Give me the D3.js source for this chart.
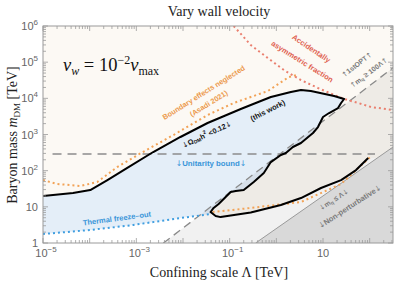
<!DOCTYPE html>
<html>
<head>
<meta charset="utf-8">
<script src="https://cdn.jsdelivr.net/npm/d3@7"></script>
<style>
  body { margin: 0; background: #fff; }
  svg { display: block; }
</style>
</head>
<body>
<div id="chart"></div>
<script>
// data: [Lambda (TeV), m_DM (TeV)]
const thisWork = [
  [1e-5, 20], [4.4e-5, 24], [1.03e-4, 29], [2.4e-4, 55], [6.4e-4, 119],
  [2.3e-3, 328], [8.8e-3, 853], [0.0336, 2080], [0.173, 5070], [0.283, 6530],
  [0.762, 1.09e4], [2.05, 1.5e4], [3.37, 1.7e4], [5.5, 1.59e4], [17.3, 1.16e4],
  [28.3, 9600], [24.4, 7430], [21.0, 5400], [13.5, 3930], [10.0, 3050],
  [7.8, 1610], [6.1, 1100], [3.37, 582], [2.26, 451], [1.6, 308], [1.25, 271],
  [0.762, 173], [0.539, 86], [0.328, 48.5], [0.2, 29.2], [0.135, 27.4],
  [0.105, 25.7], [0.082, 18.7], [0.058, 12], [0.0453, 9.3], [0.039, 7.2],
  [0.05, 5.6], [0.064, 5.2], [0.283, 7.0], [1.25, 11.2], [3.37, 17.5],
  [9.06, 33.2], [24.4, 55], [51, 104], [93, 224]
];
// index where the jagged edge reaches the lower tip
const tipIndex = 35;

const asadiUpper = [
  [1e-5, 55], [2.0e-5, 43], [6.3e-5, 37.7], [1.45e-4, 48.5], [3.9e-4, 126],
  [1.22e-3, 300], [6.25e-3, 968], [0.0336, 3460], [0.122, 7430],
  [0.656, 1.59e4], [1.86, 3.9e4], [2.76, 4.4e4]
];
const asadiLower = [
  [0.043, 7.2], [0.283, 9.3], [3.37, 13.6], [24.4, 42.8], [108, 254]
];
const freezeOut = [
  [1e-5, 1.77], [1.03e-4, 2.29], [8.6e-4, 3.15], [8.8e-3, 4.9], [0.039, 6.3]
];
const accidental = [
  [0.122, 1e6], [0.283, 2.98e5], [0.656, 1.3e5], [1.45, 6.07e4], [3.37, 3.2e4],
  [7.8, 1.93e4], [17.3, 1.24e4], [28.3, 9600], [56.6, 7430], [108, 5750], [316, 4750]
];
const unitarity = [[1.6e-5, 290], [130, 290]];
const firstOrderPT = [[3.8e-3, 1], [316, 7.0e4]];
const nonPerturbative = [[0.36, 1], [316, 450]];

const xDomain = [1e-5, 316];
const yDomain = [1, 1e6];
const xLabelPowers = [-5, -3, -1, 1];
const yLabelPowers = [0, 1, 2, 3, 4, 5, 6];

const WIDTH = 399, HEIGHT = 285;
const MARGINS = {left: 43, right: 6, top: 26, bottom: 42};

const svg = d3.select("#chart").append("svg")
  .attr("width", WIDTH).attr("height", HEIGHT);

const X = d3.scaleLog().domain(xDomain).range([MARGINS.left, WIDTH - MARGINS.right]);
const Y = d3.scaleLog().domain(yDomain).range([HEIGHT - MARGINS.bottom, MARGINS.top]);
const line = d3.line().x(d => X(d[0])).y(d => Y(d[1]));

const x0 = X.range()[0], x1 = X.range()[1], y0 = Y.range()[1], y1 = Y.range()[0];

svg.append("clipPath").attr("id", "clip")
  .append("rect").attr("x", x0).attr("y", y0).attr("width", x1 - x0).attr("height", y1 - y0);
const plot = svg.append("g").attr("clip-path", "url(#clip)");

// backgrounds
plot.append("rect").attr("x", x0).attr("y", y0).attr("width", x1 - x0).attr("height", y1 - y0)
  .attr("fill", "#ffffff");

const creamPts = [[xDomain[0], yDomain[1]]].concat(thisWork,
  [[xDomain[1], 224], [xDomain[1], yDomain[1]]]);
plot.append("path").attr("d", line(creamPts) + "Z").attr("fill", "#fcf9f4");

const bluePts = thisWork.slice(0, tipIndex + 1).concat(freezeOut.slice().reverse());
plot.append("path").attr("d", line(bluePts) + "Z").attr("fill", "#e4eef8");

const grayPts = firstOrderPT.concat([[xDomain[1], yDomain[0]]]);
plot.append("path").attr("d", line(grayPts) + "Z").attr("fill", "#000").attr("fill-opacity", 0.055);

const darkPts = nonPerturbative.concat([[xDomain[1], yDomain[0]]]);
plot.append("path").attr("d", line(darkPts) + "Z").attr("fill", "#d9d9d9");

// lines
plot.append("path").attr("d", line(nonPerturbative))
  .attr("fill", "none").attr("stroke", "#9a9a9a").attr("stroke-width", 1);
plot.append("path").attr("d", line(firstOrderPT))
  .attr("fill", "none").attr("stroke", "#8a8a8a").attr("stroke-width", 1.3).attr("stroke-dasharray", "8,5");
plot.append("path").attr("d", line(unitarity))
  .attr("fill", "none").attr("stroke", "#8c8c8c").attr("stroke-width", 1.4).attr("stroke-dasharray", "9,6");

const dotted = (data, color) => plot.append("path").attr("d", line(data))
  .attr("fill", "none").attr("stroke", color).attr("stroke-width", 2)
  .attr("stroke-dasharray", "2,3").attr("stroke-linecap", "butt");
dotted(freezeOut, "#3f9ee0");
dotted(asadiUpper, "#f2a357");
dotted(asadiLower, "#f2a357");
dotted(accidental, "#ea8070");

plot.append("path").attr("d", line(thisWork))
  .attr("fill", "none").attr("stroke", "#000").attr("stroke-width", 2).attr("stroke-linejoin", "round");

// frame and ticks
const axisColor = "#9a9a9a";
svg.append("rect").attr("x", x0).attr("y", y0).attr("width", x1 - x0).attr("height", y1 - y0)
  .attr("fill", "none").attr("stroke", axisColor).attr("stroke-width", 1);

const isMajor = v => Math.abs(Math.log10(v) - Math.round(Math.log10(v))) < 1e-6;
const ticks = svg.append("g").attr("stroke", axisColor).attr("stroke-width", 0.8);
X.ticks().forEach(v => {
  const len = isMajor(v) ? 5 : 3, px = X(v);
  ticks.append("line").attr("x1", px).attr("x2", px).attr("y1", y1).attr("y2", y1 - len);
  ticks.append("line").attr("x1", px).attr("x2", px).attr("y1", y0).attr("y2", y0 + len);
});
Y.ticks().forEach(v => {
  const len = isMajor(v) ? 5 : 3, py = Y(v);
  ticks.append("line").attr("x1", x0).attr("x2", x0 + len).attr("y1", py).attr("y2", py);
  ticks.append("line").attr("x1", x1).attr("x2", x1 - len).attr("y1", py).attr("y2", py);
});

const tickFont = "'Liberation Sans', Arial, sans-serif";
function powerLabel(sel, p) {
  if (p === 0) { sel.text("1"); return; }
  sel.append("tspan").text("10");
  if (p !== 1) sel.append("tspan").attr("dy", -5).attr("font-size", 8).text(p < 0 ? "\u2212" + (-p) : p);
}
xLabelPowers.forEach(p => {
  const t = svg.append("text").attr("x", X(Math.pow(10, p)) + (p === 1 ? 0 : 3)).attr("y", 257)
    .attr("text-anchor", "middle").attr("font-family", tickFont).attr("font-size", 11).attr("fill", "#666");
  powerLabel(t, p);
});
yLabelPowers.forEach(p => {
  const t = svg.append("text").attr("x", 38).attr("y", Y(Math.pow(10, p)) + 4)
    .attr("text-anchor", "end").attr("font-family", tickFont).attr("font-size", 11).attr("fill", "#666");
  powerLabel(t, p);
});

// titles
const serif = "'Liberation Serif', 'DejaVu Serif', serif";
svg.append("text").attr("x", 219).attr("y", 16).attr("text-anchor", "middle")
  .attr("font-family", serif).attr("font-size", 14).attr("fill", "#222").text("Vary wall velocity");
svg.append("text").attr("x", 219).attr("y", 277).attr("text-anchor", "middle")
  .attr("font-family", serif).attr("font-size", 14).attr("fill", "#222").text("Confining scale \u039B [TeV]");
const yl = svg.append("text").attr("transform", "translate(17,135) rotate(-90)").attr("text-anchor", "middle")
  .attr("font-family", serif).attr("font-size", 14).attr("fill", "#222");
yl.append("tspan").text("Baryon mass ");
yl.append("tspan").attr("font-style", "italic").text("m");
yl.append("tspan").attr("font-size", 9).attr("dy", 3).text("DM");
yl.append("tspan").attr("dy", -3).text(" [TeV]");

const vw = svg.append("text").attr("x", 63).attr("y", 71)
  .attr("font-family", serif).attr("font-size", 18.5).attr("fill", "#111");
vw.append("tspan").attr("font-style", "italic").text("v");
vw.append("tspan").attr("font-style", "italic").attr("font-size", 12).attr("dy", 4).text("w");
vw.append("tspan").attr("dy", -4).text(" = 10");
vw.append("tspan").attr("font-size", 12).attr("dy", -7).text("\u22122");
vw.append("tspan").attr("font-style", "italic").attr("dy", 7).text("v");
vw.append("tspan").attr("font-size", 12).attr("dy", 4).text("max");

// annotations
const sans = "'Liberation Sans', Arial, sans-serif";
const arrowFont = "'DejaVu Sans', sans-serif";
function note(x, y, angle, color, size, parts) {
  const t = svg.append("text").attr("transform", `translate(${x},${y}) rotate(${angle})`)
    .attr("text-anchor", "middle").attr("dominant-baseline", "middle")
    .attr("font-family", sans).attr("font-weight", "bold").attr("font-size", size).attr("fill", color);
  parts.forEach(p => {
    const s = t.append("tspan").text(p.t);
    if (p.dy) s.attr("dy", p.dy);
    if (p.fs) s.attr("font-size", p.fs);
    if (p.arrow) s.attr("font-family", arrowFont).attr("font-weight", "normal");
  });
}
const orange = "#ec9a4c", red = "#e0604f", blue = "#3a95d8", gray = "#7a7a7a";
note(204, 93, -32, orange, 7.3, [{t: "Boundary effects neglected"}]);
note(209, 104, -32, orange, 7.3, [{t: "(Asadi 2021)"}]);
note(207, 135, -25, "#111", 7.3, [{t: "\u2193", arrow: 1}, {t: "\u03A9"}, {t: "DM", fs: 5, dy: 2}, {t: "h", dy: -2}, {t: "2", fs: 5, dy: -3}, {t: " <0.12", dy: 3}, {t: "\u2193", arrow: 1}]);
note(268, 111, -27, "#111", 7.5, [{t: "(this work)"}]);
note(211, 164, 0, blue, 7.8, [{t: "\u2193", arrow: 1}, {t: "Unitarity bound"}, {t: "\u2193", arrow: 1}]);
note(117, 219, -7.5, blue, 7.5, [{t: "Thermal freeze\u2013out"}]);
note(311, 49, 34, red, 7.5, [{t: "Accidentally"}]);
note(302, 62, 32, red, 7.5, [{t: "asymmetric fraction"}]);
note(357, 65, -38, gray, 7, [{t: "\u2191", arrow: 1}, {t: "1stOPT"}, {t: "\u2191", arrow: 1}]);
note(369, 73, -37, gray, 7, [{t: "\u2191", arrow: 1}, {t: "m"}, {t: "q", fs: 5, dy: 2}, {t: " \u2265 100\u039B", dy: -2}, {t: "\u2191", arrow: 1}]);
note(334, 200, -33, gray, 7, [{t: "\u2193", arrow: 1}, {t: "m"}, {t: "q", fs: 5, dy: 2}, {t: " \u2264 \u039B", dy: -2}, {t: "\u2193", arrow: 1}]);
note(350, 207, -33, gray, 7.5, [{t: "\u2193", arrow: 1}, {t: "Non-perturbative"}, {t: "\u2193", arrow: 1}]);
</script>
</body>
</html>
